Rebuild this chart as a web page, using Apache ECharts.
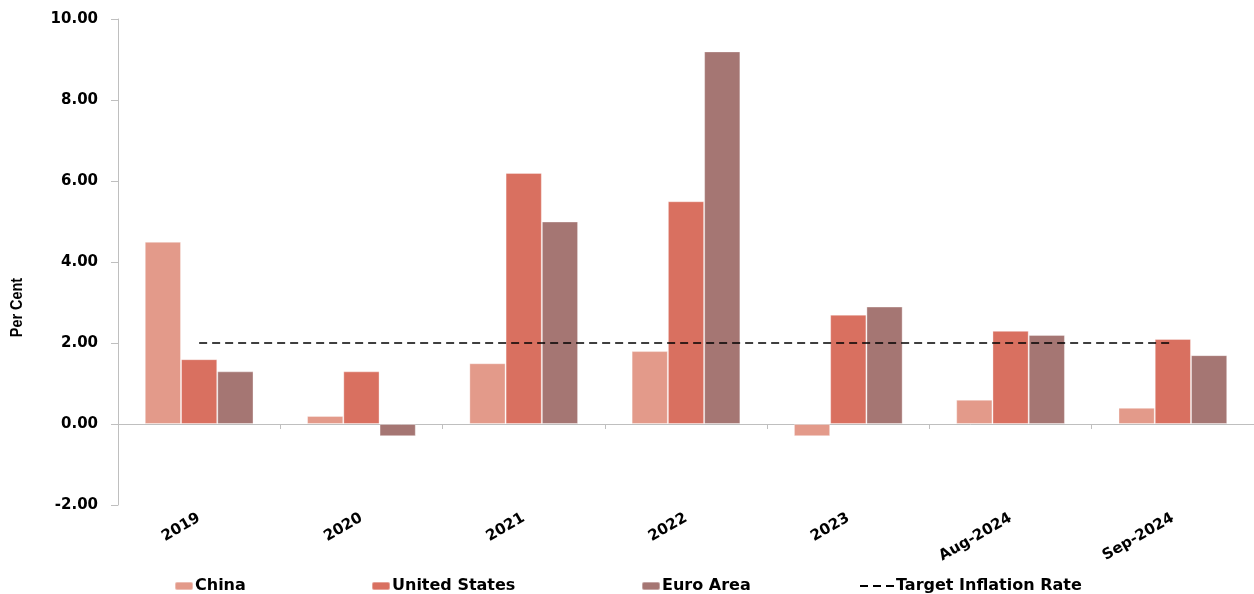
<!DOCTYPE html>
<html>
<head>
<meta charset="utf-8">
<script src="https://cdn.jsdelivr.net/npm/echarts@6/dist/echarts.min.js"></script>
<style>
  html, body { margin: 0; padding: 0; background: #fff; }
  #chart { width: 1254px; height: 594px; }
</style>
</head>
<body>
<div id="chart"></div>
<script>
// ── Data ─────────────────────────────────────────────────────────────────────
var categories = ['2019', '2020', '2021', '2022', '2023', 'Aug-2024', 'Sep-2024'];
var china      = [4.5, 0.2, 1.5, 1.8, -0.3, 0.6, 0.4];
var usa        = [1.6, 1.3, 6.2, 5.5, 2.7, 2.3, 2.1];
var euroArea   = [1.3, -0.3, 5.0, 9.2, 2.9, 2.2, 1.7];
var target     = [2, 2, 2, 2, 2, 2, 2];

// ── Style ────────────────────────────────────────────────────────────────────
var C = {
  china: '#e39a8a',
  usa:   '#d97060',
  euro:  '#a57673',
  axis:  '#bfbfbf',
  text:  '#000000'
};
var FONT = "'DejaVu Sans', sans-serif";
var DASH_ICON = 'path://M0,0h8v2h-8z M13,0h8v2h-8z M26,0h8v2h-8z';

function legendAt(left, item, w, h) {
  return {
    left: left, top: 578, padding: 0,
    itemWidth: w || 18, itemHeight: h || 8, itemGap: 0,
    data: [item],
    selectedMode: false,
    textStyle: { fontFamily: FONT, fontWeight: 'bold', fontSize: 16, color: C.text, padding: [0, 0, 0, -3] }
  };
}

var chart = echarts.init(document.getElementById('chart'), null, { renderer: 'canvas' });
chart.setOption({
  animation: false,
  backgroundColor: '#fff',
  grid: { left: 118, right: 0, top: 19, bottom: 89, containLabel: false },
  graphic: [{
    type: 'text', left: 10, top: 278, rotation: Math.PI / 2, scaleX: 0.9,
    style: { text: 'Per Cent', fontFamily: "'Liberation Sans', sans-serif",
             fontWeight: 'bold', fontSize: 16, fill: C.text }
  }],
  legend: [
    legendAt(174, 'China'),
    legendAt(371, 'United States'),
    legendAt(641, 'Euro Area'),
    legendAt(860, { name: 'Target Inflation Rate', icon: DASH_ICON, itemStyle: { color: '#000' } }, 34, 2)
  ],
  xAxis: [{
    type: 'category', data: categories, position: 'bottom',
    axisLine: { show: false, onZero: false }, axisTick: { show: false },
    axisLabel: { rotate: 30, margin: 12, fontFamily: FONT, fontWeight: 'bold', fontSize: 15, color: C.text, interval: 0 }
  }, {
    type: 'category', data: categories, position: 'bottom',
    axisLine: { show: true, onZero: true, lineStyle: { color: C.axis, width: 1 } },
    axisTick: { show: true, length: 5, lineStyle: { color: C.axis } },
    axisLabel: { show: false }
  }],
  yAxis: {
    type: 'value', min: -2, max: 10, interval: 2,
    axisLine: { show: true, lineStyle: { color: C.axis, width: 1 } },
    axisTick: { show: true, length: 7, lineStyle: { color: C.axis } },
    splitLine: { show: false },
    axisLabel: { margin: 20, fontFamily: FONT, fontWeight: 'bold', fontSize: 15, color: C.text,
                 formatter: function (v) { return v.toFixed(2); } }
  },
  series: [{
    name: 'China', type: 'bar', data: china, barCategoryGap: '33%', barGap: '0%',
    itemStyle: { color: C.china, borderColor: 'rgba(255,255,255,0.35)', borderWidth: 1 }
  }, {
    name: 'United States', type: 'bar', data: usa,
    itemStyle: { color: C.usa, borderColor: 'rgba(255,255,255,0.35)', borderWidth: 1 }
  }, {
    name: 'Euro Area', type: 'bar', data: euroArea,
    itemStyle: { color: C.euro, borderColor: 'rgba(255,255,255,0.35)', borderWidth: 1 }
  }, {
    name: 'Target Inflation Rate', type: 'line', data: target, symbol: 'none', z: 5,
    lineStyle: { color: '#000', width: 1.5, type: [8, 5] },
    itemStyle: { color: '#000' }
  }]
});
</script>
</body>
</html>
